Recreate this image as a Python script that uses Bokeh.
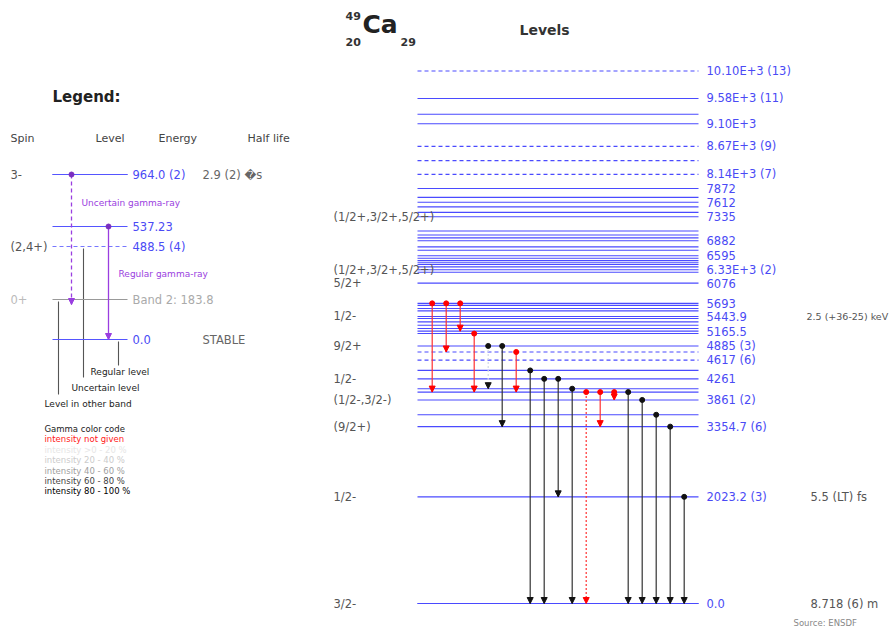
from bokeh.plotting import figure
from bokeh.models import Range1d, Arrow, NormalHead, ColumnDataSource
from bokeh.core.properties import value
from bokeh.embed import file_html
from bokeh.resources import INLINE

# ---------------- data (keV) ----------------
level_energy = [0, 2023.2, 3354.7, 3580, 3861, 4010, 4074, 4261, 4421, 4617, 4771,
                4885, 5120, 5165.5, 5215, 5278, 5341, 5405, 5443.9, 5550, 5595, 5655,
                5693, 6076, 6284, 6330, 6385, 6432, 6474, 6506, 6550, 6595, 6700, 6765,
                6882, 6935, 6990, 7065, 7335, 7418, 7524, 7612, 7703, 7872, 8140, 8400,
                8670, 9100, 9280, 9580, 10100]
dashed_levels = [4617, 4771, 8140, 8400, 8670, 10100]

label_energy = [0, 2023.2, 3354.7, 3861, 4261, 4617, 4885, 5165.5, 5443.9, 5693, 6076,
                6330, 6595, 6882, 7335, 7612, 7872, 8140, 8670, 9100, 9580, 10100]
label_text = ["0.0", "2023.2 (3)", "3354.7 (6)", "3861 (2)", "4261", "4617 (6)", "4885 (3)",
              "5165.5", "5443.9", "5693", "6076", "6.33E+3 (2)", "6595", "6882", "7335",
              "7612", "7872", "8.14E+3 (7)", "8.67E+3 (9)", "9.10E+3", "9.58E+3 (11)",
              "10.10E+3 (13)"]

spin_energy = [0, 2023.2, 3354.7, 3861, 4261, 4885, 5443.9, 6076, 6330, 7335]
spin_text = ["3/2-", "1/2-", "(9/2+)", "(1/2-,3/2-)", "1/2-", "9/2+", "1/2-", "5/2+",
             "(1/2+,3/2+,5/2+)", "(1/2+,3/2+,5/2+)"]

halflife_energy = [0, 2023.2]
halflife_text = ["8.718 (6) m", "5.5 (LT) fs"]
halflife_wide_energy = [5443.9]
halflife_wide_text = ["2.5 (+36-25) keV"]

gamma_from = [5693, 5693, 5693, 5120, 4885, 4885, 4771, 4421, 4261, 4261, 4074,
              4010, 4010, 4010, 4010, 3861, 3580, 3354.7, 2023.2]
gamma_to = [4010, 4771, 5165.5, 4010, 4074, 3354.7, 4010, 0, 0, 2023.2, 0,
            0, 3354.7, 3861, 0, 0, 0, 0, 0]
gamma_kind = ["red", "red", "red", "red", "faint_dot", "black", "red", "black", "black",
              "black", "black", "red_dot", "red", "red", "black", "black", "black",
              "black", "black"]

# legend content
legend_headers = ["Spin", "Level", "Energy", "Half life"]
legend_energies = ["964.0 (2)", "537.23", "488.5 (4)", "Band 2: 183.8", "0.0"]
legend_spins = ["3-", "(2,4+)", "0+"]
legend_halflives = ["2.9 (2) \ufffds", "STABLE"]
color_code = ["Gamma color code", "intensity not given", "intensity >0 - 20 %",
              "intensity 20 - 40 %", "intensity 40 - 60 %", "intensity 60 - 80 %",
              "intensity 80 - 100 %"]
color_code_colors = ["#222222", "#ff2020", "#e6e6e6", "#cccccc", "#a0a0a0", "#444444", "#000000"]

# ---------------- figure ----------------
K = 0.05272          # px per keV
Y0 = 603             # pixel row of 0 keV
W, H = 893, 628
p = figure(width=W, height=H, x_range=Range1d(0, W),
           y_range=Range1d(-(H - Y0) / K, Y0 / K),
           output_backend="svg", toolbar_location=None,
           x_axis_type=None, y_axis_type=None, min_border=0,
           outline_line_color=None, background_fill_color="white",
           border_fill_color="white")
p.extra_y_ranges = {"px": Range1d(H, 0)}

FONT = value("DejaVu Sans")
LEVEL_COL = "#4a4aff"
LABEL_COL = "#4a4af5"
GREY = "#555555"

# legend pointer lines
p.segment(x0=[58, 83, 118], x1=[58, 83, 118], y0=[301, 248, 341], y1=[394, 377, 365],
          y_range_name="px", line_color="#555555", line_width=1.1)

X_LEFT, X_RIGHT = 417, 698

solid = [e for e in level_energy if e not in dashed_levels]
solid = solid[:1] + solid          # first path repeated so the coloured stroke is on top
dashed = [e for e in level_energy if e in dashed_levels]
p.multi_line(xs=[[X_LEFT, X_RIGHT] for _ in solid], ys=[[e, e] for e in solid],
             line_color=LEVEL_COL, line_width=1.1)
p.multi_line(xs=[[X_LEFT, X_RIGHT] for _ in dashed], ys=[[e, e] for e in dashed],
             line_color=LEVEL_COL, line_width=1.1, line_dash="4 3")

p.text(x=[706] * len(label_energy), y=label_energy, text=label_text,
       text_font=FONT, text_font_size="11.5px", text_color=LABEL_COL,
       text_baseline="middle", text_align="left")
p.text(x=[333] * len(spin_energy), y=spin_energy, text=spin_text,
       text_font=FONT, text_font_size="11.5px", text_color=GREY,
       text_baseline="middle", text_align="left")
p.text(x=[810] * len(halflife_energy), y=halflife_energy, text=halflife_text,
       text_font=FONT, text_font_size="11.5px", text_color=GREY,
       text_baseline="middle", text_align="left")
p.text(x=[806] * len(halflife_wide_energy), y=halflife_wide_energy, text=halflife_wide_text,
       text_font=FONT, text_font_size="9.5px", text_color=GREY,
       text_baseline="middle", text_align="left")

# gammas
styles = {
    "red": ("#ff3030", "#ff0000", "solid"),
    "red_dot": ("#ff3030", "#ff0000", "2 2"),
    "black": ("#333333", "#111111", "solid"),
    "faint_dot": ("#d0d8e8", "#111111", "2 2"),
}
gx = [431.7 + 14.0 * i for i in range(len(gamma_from))]
for kind, (lc, hc, dash) in styles.items():
    idx = [i for i, k in enumerate(gamma_kind) if k == kind]
    if not idx:
        continue
    src = ColumnDataSource(dict(x=[gx[i] for i in idx], y0=[gamma_from[i] for i in idx],
                                y1=[gamma_to[i] for i in idx]))
    p.segment(x0="x", x1="x", y0="y0", y1="y1", source=src,
              line_color=lc, line_width=1.2, line_dash=dash)
    p.add_layout(Arrow(x_start="x", y_start="y0", x_end="x", y_end="y1", source=src,
                       line_alpha=0, line_width=0,
                       end=NormalHead(size=6, fill_color=hc, line_color=hc, line_width=1)))
    p.scatter(x="x", y="y0", source=src, size=5, marker="circle",
              fill_color=hc, line_color=hc)

# ---------------- header ----------------
p.text(x=[345, 345, 400], y=[15, 41, 41], text=["49", "20", "29"], y_range_name="px",
       text_font=FONT, text_font_size="11px", text_font_style="bold", text_color="#333333",
       text_baseline="middle", text_align="left")
p.text(x=[362], y=[24], text=["Ca"], y_range_name="px",
       text_font=FONT, text_font_size="25px", text_font_style="bold", text_color="#222222",
       text_baseline="middle", text_align="left")
p.text(x=[519], y=[29], text=["Levels"], y_range_name="px",
       text_font=FONT, text_font_size="14px", text_font_style="bold", text_color="#333333",
       text_baseline="middle", text_align="left")
p.text(x=[793], y=[622], text=["Source: ENSDF"], y_range_name="px",
       text_font=FONT, text_font_size="8.5px", text_color="#888888",
       text_baseline="middle", text_align="left")

# ---------------- legend ----------------
p.text(x=[52], y=[96], text=["Legend:"], y_range_name="px",
       text_font=FONT, text_font_size="15px", text_font_style="bold", text_color="#222222",
       text_baseline="middle", text_align="left")
p.text(x=[10, 95, 158, 247], y=[138] * 4, text=legend_headers, y_range_name="px",
       text_font=FONT, text_font_size="11px", text_color="#444444",
       text_baseline="middle", text_align="left")

lev_y = [174, 226, 246, 299, 339]
p.segment(x0=[52] * 4, x1=[127] * 4, y0=[174, 174, 226, 339], y1=[174, 174, 226, 339],
          y_range_name="px", line_color="#5555ff", line_width=1.2)
p.segment(x0=[52], x1=[127], y0=[246], y1=[246], y_range_name="px",
          line_color="#7777ff", line_width=1.2, line_dash="4 3")
p.segment(x0=[52], x1=[127], y0=[299], y1=[299], y_range_name="px",
          line_color="#999999", line_width=1.2)
p.text(x=[132] * 5, y=lev_y, text=legend_energies, y_range_name="px",
       text_font=FONT, text_font_size=value("11.5px"),
       text_color=[LABEL_COL, LABEL_COL, LABEL_COL, "#aaaaaa", LABEL_COL],
       text_baseline="middle", text_align="left")
p.text(x=[10, 10, 10], y=[174, 246, 299], text=legend_spins, y_range_name="px",
       text_font=FONT, text_font_size="11.5px",
       text_color=[GREY, GREY, "#bbbbbb"], text_baseline="middle", text_align="left")
p.text(x=[202, 202], y=[174, 339], text=legend_halflives, y_range_name="px",
       text_font=FONT, text_font_size="11.5px", text_color="#666666",
       text_baseline="middle", text_align="left")

VIOLET = "#9a3ee0"
lsrc_d = ColumnDataSource(dict(x=[71], y0=[174], y1=[304]))
p.segment(x0="x", x1="x", y0="y0", y1="y1", source=lsrc_d, y_range_name="px",
          line_color=VIOLET, line_width=1.3, line_dash="4 3")
p.add_layout(Arrow(x_start="x", y_start="y0", x_end="x", y_end="y1", source=lsrc_d,
                   y_range_name="px", line_alpha=0, line_width=0,
                   end=NormalHead(size=6, fill_color=VIOLET, line_color=VIOLET)))
p.scatter(x="x", y="y0", source=lsrc_d, y_range_name="px", size=5,
          fill_color="#7a2ec0", line_color="#7a2ec0")
lsrc_s = ColumnDataSource(dict(x=[108], y0=[226], y1=[339]))
p.segment(x0="x", x1="x", y0="y0", y1="y1", source=lsrc_s, y_range_name="px",
          line_color=VIOLET, line_width=1.3)
p.add_layout(Arrow(x_start="x", y_start="y0", x_end="x", y_end="y1", source=lsrc_s,
                   y_range_name="px", line_alpha=0, line_width=0,
                   end=NormalHead(size=6, fill_color=VIOLET, line_color=VIOLET)))
p.scatter(x="x", y="y0", source=lsrc_s, y_range_name="px", size=5,
          fill_color="#7a2ec0", line_color="#7a2ec0")
p.text(x=[81, 118], y=[202, 273], text=["Uncertain gamma-ray", "Regular gamma-ray"],
       y_range_name="px", text_font=FONT, text_font_size="9px", text_color=VIOLET,
       text_baseline="middle", text_align="left")

p.text(x=[44, 71, 90], y=[403, 387, 371],
       text=["Level in other band", "Uncertain level", "Regular level"],
       y_range_name="px", text_font=FONT, text_font_size="9px", text_color="#222222",
       text_baseline="middle", text_align="left")

p.text(x=[44] * len(color_code), y=[428.5 + 10.4 * i for i in range(len(color_code))],
       text=color_code, y_range_name="px", text_font=FONT, text_font_size="8.5px",
       text_color=color_code_colors, text_baseline="middle", text_align="left")

open("out.html", "w").write(file_html(p, INLINE))
